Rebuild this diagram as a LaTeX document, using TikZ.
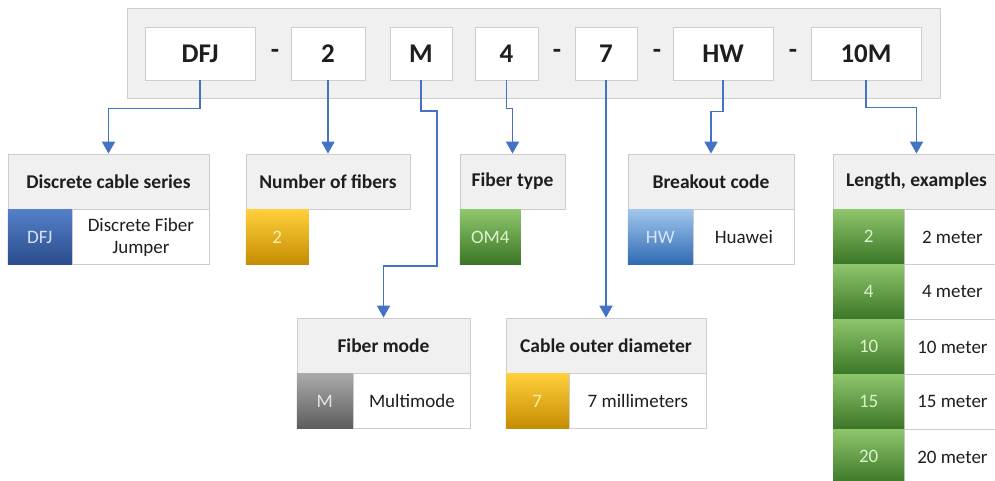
\documentclass[tikz,border=0pt]{standalone}
\usepackage{fontspec}
\setmainfont{Carlito}
\usepackage{tikz}
\usetikzlibrary{positioning,arrows.meta}
\usepackage{xcolor}

\definecolor{rahmen}{HTML}{CDCDCD}
\definecolor{kopf}{HTML}{F0F0F0}
\definecolor{pfeil}{HTML}{4472C4}
\definecolor{schrift}{HTML}{1E1E1E}

\tikzset{
  leiste/.style={draw=rahmen, fill=kopf, line width=1pt, inner sep=0pt},
  codebox/.style={draw=rahmen, fill=white, line width=0.8pt, inner sep=0pt,
    minimum height=53pt, text=schrift, font=\fontsize{27}{32}\selectfont\bfseries},
  strich/.style={inner sep=0pt, text=schrift, font=\fontsize{27}{32}\selectfont\bfseries},
  kopfbox/.style={draw=rahmen, fill=kopf, line width=0.8pt, inner sep=0pt,
    minimum height=55pt, text=schrift, font=\fontsize{19.5}{23}\selectfont\bfseries},
  wert/.style={anchor=north west, inner sep=0pt, minimum height=55pt,
    font=\fontsize{19}{22}\selectfont},
  beschr/.style={anchor=north west, draw=rahmen, fill=white, line width=0.8pt,
    inner sep=0pt, minimum height=55pt, text=schrift, align=center,
    font=\fontsize{19}{22}\selectfont},
  blau/.style={top color={rgb,255:red,84;green,128;blue,200}, bottom color={rgb,255:red,42;green,76;blue,140},
    text={rgb,255:red,215;green,225;blue,245}},
  hellblau/.style={top color={rgb,255:red,160;green,198;blue,236}, bottom color={rgb,255:red,46;green,106;blue,178},
    text={rgb,255:red,215;green,230;blue,250}},
  gelb/.style={top color={rgb,255:red,255;green,208;blue,60}, bottom color={rgb,255:red,196;green,140;blue,0},
    text={rgb,255:red,255;green,238;blue,170}},
  gruen/.style={top color={rgb,255:red,142;green,198;blue,108}, bottom color={rgb,255:red,58;green,118;blue,38},
    text={rgb,255:red,220;green,242;blue,205}},
  grau/.style={top color={rgb,255:red,170;green,170;blue,170}, bottom color={rgb,255:red,92;green,92;blue,92},
    text={rgb,255:red,228;green,228;blue,228}},
  verb/.style={draw=pfeil, line width=1.8pt, -{Triangle[width=13pt,length=12pt]}}
}

\begin{document}
\begin{tikzpicture}[x=1pt,y=-1pt]
  \useasboundingbox (0,0) rectangle (995,480);

  % Codeleiste oben
  \node[leiste, minimum width=813pt, minimum height=90pt] (bar) at (533.5,53) {};
  \node[codebox, minimum width=110pt] (dfj)   at (200,53.5)   {DFJ};
  \node[codebox, minimum width=74pt]  (num)   at (328,53.5)   {2};
  \node[codebox, minimum width=62pt]  (m)     at (421,53.5)   {M};
  \node[codebox, minimum width=63pt]  (four)  at (506.5,53.5) {4};
  \node[codebox, minimum width=62pt]  (seven) at (606,53.5)   {7};
  \node[codebox, minimum width=100pt] (hw)    at (723,53.5)   {HW};
  \node[codebox, minimum width=110pt] (len)   at (866,53.5)   {10M};
  \node[strich] (s1) at (275,53.5) {-};
  \node[strich] (s2) at (557,53.5) {-};
  \node[strich] (s3) at (657,53.5) {-};
  \node[strich] (s4) at (793,53.5) {-};

  % Tabellen, obere Reihe
  \node[kopfbox, minimum width=201pt] (ser) at (108.5,181.5) {Discrete cable series};
  \node[wert, blau, minimum width=64pt] (serw) at (ser.south west) {DFJ};
  \node[beschr, minimum width=137pt] (serd) at (serw.north east) {Discrete Fiber\\Jumper};

  \node[kopfbox, minimum width=164pt] (fib) at (328,181.5) {Number of fibers};
  \node[wert, gelb, minimum width=63pt] (fibw) at (fib.south west) {2};

  \node[kopfbox, minimum width=105pt] (typ) at (512.5,181.5) {Fiber type};
  \node[wert, gruen, minimum width=61pt] (typw) at (typ.south west) {OM4};

  \node[kopfbox, minimum width=166pt] (brk) at (711,181.5) {Breakout code};
  \node[wert, hellblau, minimum width=65pt] (brkw) at (brk.south west) {HW};
  \node[beschr, minimum width=101pt] (brkd) at (brkw.north east) {Huawei};

  \node[kopfbox, minimum width=167pt] (lhd) at (916.5,181.5) {Length, examples};
  \foreach \v/\t [count=\i] in {2/2 meter, 4/4 meter, 10/10 meter, 15/15 meter, 20/20 meter}{
    \node[beschr, minimum width=96pt] (ld\i) at (904,154+55*\i) {\t};
    \node[wert, gruen, minimum width=71pt] (lw\i) at (833,154+55*\i) {\v};
  }

  % Tabellen, untere Reihe
  \node[kopfbox, minimum width=173pt] (mode) at (383.5,345.5) {Fiber mode};
  \node[wert, grau, minimum width=56pt] (modew) at (mode.south west) {M};
  \node[beschr, minimum width=117pt] (moded) at (modew.north east) {Multimode};

  \node[kopfbox, minimum width=200pt] (diam) at (606,345.5) {Cable outer diameter};
  \node[wert, gelb, minimum width=63pt] (diamw) at (diam.south west) {7};
  \node[beschr, minimum width=137pt] (diamd) at (diamw.north east) {7 millimeters};

  % Verbindungen
  \draw[verb] (dfj.south) -- ++(0,28) -| (ser.north);
  \draw[verb] (num.south) -- (fib.north);
  \draw[verb] (m.south) |- (437,111) |- ([yshift=52pt]mode.north) -- (mode.north);
  \draw[verb] (four.south) -- ++(0,28) -| (typ.north);
  \draw[verb] (seven.south) -- (diam.north);
  \draw[verb] (hw.south) -- ++(0,31) -| (brk.north);
  \draw[verb] (len.south) -- ++(0,27) -| (lhd.north);

\end{tikzpicture}
\end{document}
